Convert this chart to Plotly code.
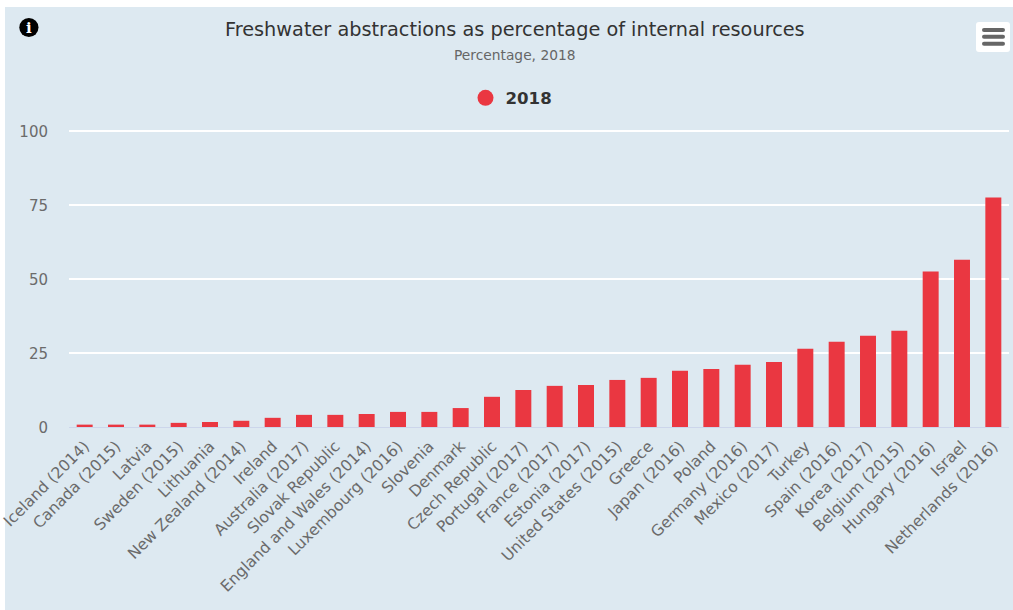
import plotly.graph_objects as go

categories = ["Iceland (2014)", "Canada (2015)", "Latvia", "Sweden (2015)", "Lithuania",
              "New Zealand (2014)", "Ireland", "Australia (2017)", "Slovak Republic",
              "England and Wales (2014)", "Luxembourg (2016)", "Slovenia", "Denmark",
              "Czech Republic", "Portugal (2017)", "France (2017)", "Estonia (2017)",
              "United States (2015)", "Greece", "Japan (2016)", "Poland", "Germany (2016)",
              "Mexico (2017)", "Turkey", "Spain (2016)", "Korea (2017)", "Belgium (2015)",
              "Hungary (2016)", "Israel", "Netherlands (2016)"]
values_2018 = [0.8, 0.8, 0.8, 1.4, 1.7, 2.1, 3.1, 4.1, 4.1, 4.4, 5.1, 5.1, 6.4, 10.2, 12.5,
               13.9, 14.2, 15.9, 16.6, 19.0, 19.6, 21.0, 22.0, 26.4, 28.8, 30.8, 32.5,
               52.5, 56.5, 77.5]
y_ticks = [0, 25, 50, 75, 100]

W, H = 1013, 610
L, R, T, B = 69, 1009, 127, 427
Y_MAX = (B - T) / 2.96
BG = "#dde9f1"
RED = "#ea3741"
FONT = "DejaVu Sans"

def px(x):
    return (x - L) / (R - L)

def py(y):
    return (B - y) / (B - T)

def rounded(x0, y0, x1, y1, r):
    """Rounded rectangle as an SVG path in paper coordinates."""
    p = lambda x, y: f"{px(x)},{py(y)}"
    return (f"M {p(x0 + r, y0)} L {p(x1 - r, y0)} Q {p(x1, y0)} {p(x1, y0 + r)} "
            f"L {p(x1, y1 - r)} Q {p(x1, y1)} {p(x1 - r, y1)} "
            f"L {p(x0 + r, y1)} Q {p(x0, y1)} {p(x0, y1 - r)} "
            f"L {p(x0, y0 + r)} Q {p(x0, y0)} {p(x0 + r, y0)} Z")

fig = go.Figure()
fig.add_bar(x=categories, y=values_2018, marker=dict(color=RED, line_width=0), width=0.51,
            showlegend=False, name="2018")
fig.add_scatter(x=[None], y=[None], mode="markers", name="2018",
                marker=dict(color=RED, size=16, symbol="circle"))

shapes = [
    dict(type="rect", xref="paper", yref="paper", x0=px(5), x1=px(W), y0=py(7), y1=py(H),
         fillcolor=BG, line_width=0, layer="below"),
    dict(type="circle", xref="paper", yref="paper", x0=px(19.3), x1=px(38.5), y0=py(18), y1=py(37),
         fillcolor="#000000", line_width=0),
    dict(type="path", xref="paper", yref="paper", path=rounded(976, 22, 1010, 52, 3),
         fillcolor="#ffffff", line_width=0),
]
for yy in (30, 36.8, 43.7):
    shapes.append(dict(type="path", xref="paper", yref="paper",
                       path=rounded(982, yy - 2, 1005, yy + 2, 2),
                       fillcolor="#666666", line_width=0))

annotations = [
    dict(text="Freshwater abstractions as percentage of internal resources", xref="paper", yref="paper",
         x=px(514.5), y=py(29.5), xanchor="center", yanchor="middle", showarrow=False,
         font=dict(family=FONT, size=19.3, color="#333333")),
    dict(text="Percentage, 2018", xref="paper", yref="paper",
         x=px(514.5), y=py(55), xanchor="center", yanchor="middle", showarrow=False,
         font=dict(family=FONT, size=13.8, color="#666666")),
    dict(text="<b>i</b>", xref="paper", yref="paper", x=px(28.9), y=py(27.7),
         xanchor="center", yanchor="middle", showarrow=False,
         font=dict(family="DejaVu Serif", size=15, color="#ffffff")),
]

fig.update_layout(
    width=W, height=H, autosize=False,
    margin=dict(l=L, r=W - R, t=T, b=H - B, pad=0),
    paper_bgcolor="#ffffff", plot_bgcolor=BG,
    font=dict(family=FONT, size=14, color="#666666"),
    shapes=shapes, annotations=annotations,
    bargap=0.49,
    hovermode="closest",
    legend=dict(orientation="h", x=px(511.5), xanchor="center", y=py(98), yanchor="middle",
                bgcolor="rgba(0,0,0,0)", font=dict(family=FONT, size=16.6, color="#333333", weight="bold"),
                itemwidth=30),
    xaxis=dict(type="category", tickangle=-45, showgrid=False, ticks="", automargin=False,
               showline=True, linecolor="#ccd6eb", linewidth=1, range=[-0.5, 29.5],
               ticklabelstandoff=3, layer="below traces",
               tickfont=dict(family=FONT, size=15.6, color="#6b6b6b"), tickmode="linear", dtick=1),
    yaxis=dict(range=[0, Y_MAX], tickvals=y_ticks, showgrid=True, gridcolor="#ffffff", gridwidth=1.7,
               zeroline=False, automargin=False, ticks="", ticklen=0, ticklabelstandoff=20,
               ticklabelshift=1,
               tickfont=dict(family=FONT, size=15, color="#6b6b6b")),
)
fig.write_html("out.html", config=dict(displayModeBar=False),
               post_script="document.body.style.margin='0';")
